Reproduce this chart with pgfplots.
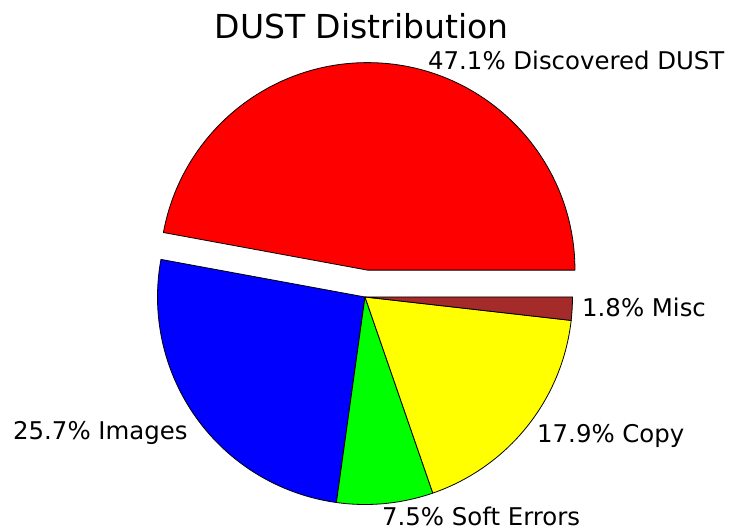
\documentclass[border=0pt]{standalone}
\usepackage{pgfplots}
\pgfplotsset{compat=1.18}
\usepackage{fontspec}
\setmainfont{DejaVu Sans}
\definecolor{miscbrown}{RGB}{165,42,42}
\definecolor{pgreen}{RGB}{0,255,0}
\definecolor{pyellow}{RGB}{255,255,0}
\definecolor{pred}{RGB}{255,0,0}
\definecolor{pblue}{RGB}{0,0,255}
\begin{document}
\begin{tikzpicture}
\begin{axis}[
  x=1pt, y=1pt,
  xmin=0, xmax=729, ymin=0, ymax=531,
  hide axis, clip=false,
]
\addplot[draw=none, forget plot] coordinates {(0,0) (729,531)};
\pgfplotsextra{
  \path (axis cs:0,0) rectangle (axis cs:729,531);
  \def\cum{0}
  % value / colour / explode (in px)
  \foreach \v/\c/\e in {47.1/pred/27, 25.7/pblue/0, 7.5/pgreen/0, 17.9/pyellow/0, 1.8/miscbrown/0}{
    \pgfmathsetmacro{\a}{3.6*\cum}
    \pgfmathsetmacro{\b}{3.6*(\cum+\v)}
    \pgfmathsetmacro{\m}{(\a+\b)/2}
    \pgfmathsetmacro{\cx}{365+\e*cos(\m)}
    \pgfmathsetmacro{\cy}{234+\e*sin(\m)}
    \filldraw[fill=\c, draw=black, line width=0.8pt, line join=round]
      (axis cs:\cx,\cy) -- ++(\a:207.5pt) arc[start angle=\a, end angle=\b, radius=207.5pt] -- cycle;
    \pgfmathsetmacro{\newcum}{\cum+\v}
    \global\let\cum\newcum
  }
  \node[anchor=base, inner sep=0pt, font=\fontsize{33}{38}\selectfont] at (axis cs:361.5,492) {DUST Distribution};
  \node[anchor=base west, inner sep=0pt, font=\fontsize{24.4}{28}\selectfont] at (axis cs:428,461) {47.1\% Discovered DUST};
  \node[anchor=base west, inner sep=0pt, font=\fontsize{24.4}{28}\selectfont] at (axis cs:582,214) {1.8\% Misc};
  \node[anchor=base west, inner sep=0pt, font=\fontsize{24.4}{28}\selectfont] at (axis cs:537,89) {17.9\% Copy};
  \node[anchor=base west, inner sep=0pt, font=\fontsize{24.4}{28}\selectfont] at (axis cs:382,6) {7.5\% Soft Errors};
  \node[anchor=base west, inner sep=0pt, font=\fontsize{24.4}{28}\selectfont] at (axis cs:13,92) {25.7\% Images};
}
\end{axis}
\end{tikzpicture}
\end{document}
